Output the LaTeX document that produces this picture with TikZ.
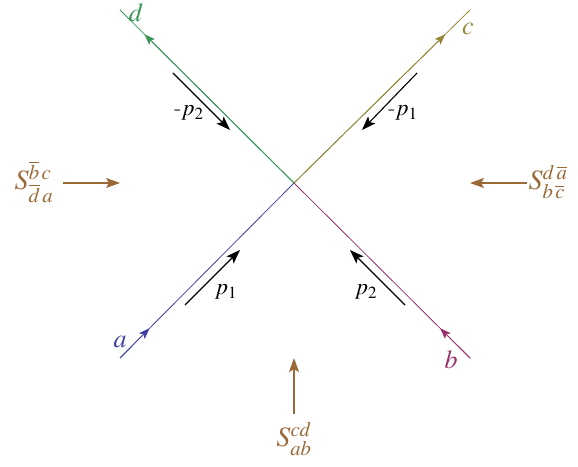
\documentclass[tikz,border=0pt]{standalone}
\usepackage{mathptmx}
\usetikzlibrary{arrows.meta,calc}

\definecolor{legA}{RGB}{64,64,160}
\definecolor{legB}{RGB}{150,50,105}
\definecolor{legC}{RGB}{150,135,55}
\definecolor{legD}{RGB}{55,150,85}
\definecolor{smat}{RGB}{155,105,55}

\begin{document}
\begin{tikzpicture}[x=1pt,y=1pt,
    leg/.style={line width=.8pt},
    legtip/.style={leg,-{Stealth[length=11pt,width=8pt,inset=2.5pt]}},
    mom/.style={line width=1.1pt,-{Stealth[length=14pt,width=10pt,inset=3pt]}},
    sarrow/.style={smat,line width=1.2pt,-{Stealth[length=14pt,width=10pt,inset=3pt]}},
    font=\fontsize{26}{30}\selectfont]
  \useasboundingbox (0,0) rectangle (578,466);

  \coordinate (O) at (294,283);
  \coordinate (a) at (120,108);
  \coordinate (b) at (470,108);
  \coordinate (c) at (470,456);
  \coordinate (d) at (120,456);

  % incoming legs a, b and outgoing legs c, d
  \foreach \p/\col in {a/legA,b/legB} {
    \draw[leg,\col] (\p) -- (O);
    \draw[legtip,\col] (\p) -- ($(\p)!0.17!(O)$);
  }
  \foreach \p/\col in {c/legC,d/legD} {
    \draw[leg,\col] (O) -- (\p);
    \draw[legtip,\col] (O) -- ($(O)!0.86!(\p)$);
  }
  \node[legA] (la) at (120,124) {$a$};
  \node[legB] (lb) at (451,106) {$b$};
  \node[legC] (lc) at (468,437) {$c$};
  \node[legD] (ld) at (136,453) {$d$};

  % momenta
  \coordinate (p1s) at (185,161); \coordinate (p1e) at (240,216);
  \coordinate (p2s) at (405,161); \coordinate (p2e) at (350,216);
  \coordinate (q2s) at (173,393); \coordinate (q2e) at (230,336);
  \coordinate (q1s) at (417,393); \coordinate (q1e) at (362,336);
  \draw[mom] (p1s) -- (p1e);
  \draw[mom] (p2s) -- (p2e);
  \draw[mom] (q2s) -- (q2e);
  \draw[mom] (q1s) -- (q1e);
  \begin{scope}[font=\fontsize{23}{27}\selectfont]
    \node (mp1) at (226,174) {$p_1$};
    \node (mp2) at (366,174) {$p_2$};
    \node (mq2) at (189,353) {-$p_2$};
    \node (mq1) at (403,353) {-$p_1$};
  \end{scope}

  % S-matrix channels
  \begin{scope}[font=\fontsize{28}{32}\selectfont]
    \node[smat] (sl) at (34,284) {$S^{\overline{b}\,c}_{\overline{d}\,a}$};
    \node[smat] (sr) at (548,284) {$S^{d\,\overline{a}}_{b\,\overline{c}}$};
    \node[smat] (sb) at (294,27) {$S^{cd}_{ab}$};
  \end{scope}
  \coordinate (sle) at (120,283);
  \coordinate (sre) at (470,283);
  \coordinate (sbe) at (294,108);
  \draw[sarrow] (63,283) -- (sle);
  \draw[sarrow] (527,283) -- (sre);
  \draw[sarrow] (294,52) -- (sbe);
\end{tikzpicture}
\end{document}
